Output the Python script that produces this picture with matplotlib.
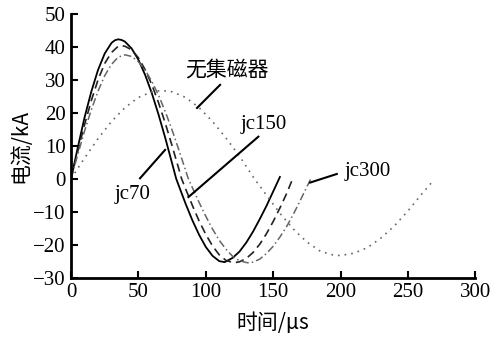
import matplotlib.pyplot as plt

# jc70 (solid)
t_jc70 = [0, 5, 10, 15, 20, 25, 30, 32.5, 35, 37.5, 40, 45, 50, 55, 60, 65, 70, 75, 78,
          80, 85, 90, 95, 100, 105, 110, 114, 120, 125, 130, 135, 140, 145, 150, 155]
i_jc70 = [0, 9.4, 18.5, 26.3, 32.9, 37.9, 41.1, 41.9, 42.2, 42.0, 41.5, 39.4, 36.0, 31.4, 25.8, 19.3, 12.2, 4.6, 0,
          -2.2, -7.6, -12.6, -17.0, -20.7, -23.4, -25.0, -25.3, -24.0, -22.1, -19.4, -16.1, -12.3, -8.3, -3.9, 0.5]

# jc150 (dashed)
t_jc150 = [0, 5, 10, 15, 20, 25, 30, 35, 38, 40, 45, 50, 55, 60, 65, 70, 75, 80, 82,
           85, 90, 95, 100, 105, 110, 115, 121, 125, 130, 135, 140, 145, 150, 155, 160, 165]
i_jc150 = [0, 8.3, 16.3, 23.6, 29.9, 34.9, 38.2, 40.1, 40.2, 40.1, 39.0, 36.6, 33.0, 28.4, 22.9, 16.7, 9.9, 2.9, 0,
           -3.1, -8.1, -12.8, -16.9, -20.4, -23.1, -24.8, -25.5, -25.2, -24.2, -22.4, -19.9, -16.7, -13.0, -8.9, -4.5, 0.5]

# jc300 (dash-dot)
t_jc300 = [0, 5, 10, 15, 20, 25, 30, 35, 40, 45, 50, 55, 60, 65, 70, 75, 80, 85, 87,
           90, 95, 100, 105, 110, 115, 120, 125, 131, 135, 140, 145, 150, 155, 160, 165, 170, 175, 178]
i_jc300 = [0, 7.3, 14.4, 20.8, 26.5, 31.2, 34.6, 36.8, 37.5, 37.0, 35.4, 32.9, 29.4, 25.2, 20.2, 14.7, 8.7, 2.5, 0,
           -2.7, -7.2, -11.4, -15.3, -18.7, -21.4, -23.6, -24.9, -25.5, -25.3, -24.4, -22.7, -20.5, -17.7, -14.5, -10.8, -6.7, -2.5, 0]

# 无集磁器 (dotted)
t_none = [0, 10, 20, 30, 40, 50, 60, 67, 75, 85, 95, 105, 115, 125, 136,
          145, 155, 165, 175, 185, 195, 200, 210, 220, 230, 240, 250, 260, 269]
i_none = [0, 6.2, 12.1, 17.3, 21.5, 24.6, 26.3, 26.7, 26.3, 24.6, 21.5, 17.3, 12.3, 6.8, 0,
          -5.0, -10.5, -15.3, -19.2, -22.0, -23.2, -23.3, -22.6, -20.9, -18.0, -14.3, -9.8, -4.8, -0.5]

xticks = [0, 50, 100, 150, 200, 250, 300]
yticks = [-30, -20, -10, 0, 10, 20, 30, 40, 50]

plt.rcParams['font.family'] = ['Liberation Serif', 'Noto Sans CJK SC']
plt.rcParams['font.size'] = 15

cjk = ['Noto Sans CJK SC', 'DejaVu Sans']

fig = plt.figure(figsize=(4.9, 3.39), dpi=100)
ax = fig.add_axes([0.145, 0.181, 0.825, 0.779])

ax.plot(t_jc70, i_jc70, color='black', lw=1.3, ls='-')
ax.plot(t_jc150, i_jc150, color='#222222', lw=1.2, ls=(0, (5, 3)))
ax.plot(t_jc300, i_jc300, color='#666666', lw=1.1, ls=(0, (5, 2, 1, 2)))
ax.plot(t_none, i_none, color='#666666', lw=1.2, ls=(0, (1, 3)))

# labels with leader lines
ax.text(115.4, 33.2, '无集磁器', ha='center', va='center', family=cjk, fontsize=15)
ax.plot([110.6, 93.5], [28.4, 21.4], color='black', lw=1.5)
ax.text(143.3, 16.5, 'jc150', ha='center', va='center')
ax.plot([139, 87.1], [12.7, -5.6], color='black', lw=1.5)
ax.text(45.7, -4.9, 'jc70', ha='center', va='center')
ax.plot([51.2, 69.8], [0.1, 8.7], color='black', lw=1.5)
ax.text(220.1, 2.3, 'jc300', ha='center', va='center')
ax.plot([197.2, 177.4], [1.4, -1.2], color='black', lw=1.5)

ax.set_xlim(0, 300)
ax.set_ylim(-30, 50)
ax.set_xticks(xticks)
ax.set_yticks(yticks)
ax.set_yticklabels([str(v).replace('-', '\u2212') for v in yticks])
ax.tick_params(direction='in', length=5, width=1.5, pad=4)
for s in ['top', 'right']:
    ax.spines[s].set_visible(False)
for s in ['left', 'bottom']:
    ax.spines[s].set_linewidth(2)

ax.set_xlabel('时间/μs', family=cjk, fontsize=15, labelpad=7)
ax.set_ylabel('电流/kA', family=cjk, fontsize=15, labelpad=1)

plt.savefig('out.png', dpi=100)
